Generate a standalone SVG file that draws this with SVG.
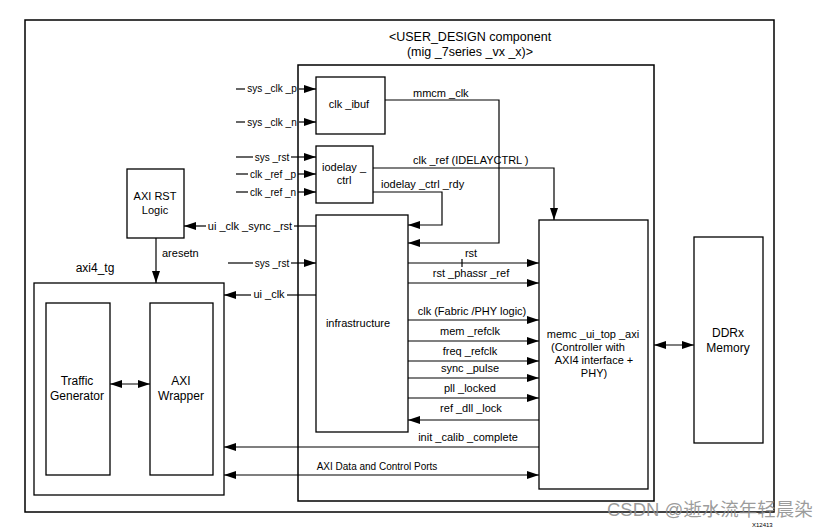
<svg xmlns="http://www.w3.org/2000/svg" width="833" height="529" viewBox="0 0 833 529">
<defs>
<marker id="ah" viewBox="0 0 12 8" refX="12" refY="4" markerWidth="12" markerHeight="8" orient="auto-start-reverse" markerUnits="userSpaceOnUse"><path d="M0,0 L12,4 L0,8 z" fill="#000"/></marker>
<style>
.box{fill:#fff;stroke:#000;stroke-width:1.3}
.frame{fill:none;stroke:#000;stroke-width:1.5}
.c{fill:none;stroke:#000;stroke-width:1.2}
.ar{marker-end:url(#ah)}
.bi{marker-start:url(#ah);marker-end:url(#ah)}
text{font-family:"Liberation Sans",Arial,sans-serif;fill:#000}
.n{font-size:12px;text-anchor:middle}
.m{font-size:11px;text-anchor:middle}
.l{font-size:11px;text-anchor:middle}
.s{font-size:10px;text-anchor:middle}
</style>
</defs>
<rect x="25" y="20" width="749" height="492" class="frame"/>
<g id="user_design">
<rect x="298" y="65" width="356" height="436" class="frame"/>
<text x="470" y="41" style="font-size:12.5px;text-anchor:middle">&lt;USER_DESIGN component</text>
<text x="470" y="56" style="font-size:12.5px;text-anchor:middle">(mig _7series _vx _x)&gt;</text>
</g>
<g id="clk_ibuf"><rect x="316" y="77" width="69" height="57" class="box"/><text x="349" y="108" class="m">clk _ibuf</text></g>
<g id="iodelay_ctrl"><rect x="316" y="146" width="57" height="57" class="box"/><text x="344" y="171" class="m">iodelay _</text><text x="344" y="184" class="m">ctrl</text></g>
<g id="infrastructure"><rect x="316" y="215" width="92" height="217" class="box"/><text x="358" y="327" class="m">infrastructure</text></g>
<g id="memc"><rect x="539" y="220" width="109" height="269" class="box"/>
<text x="593" y="338" class="m">memc _ui_top _axi</text>
<text x="588" y="351" class="m">(Controller with</text>
<text x="594" y="364" class="m">AXI4 interface  +</text>
<text x="594" y="377" class="m">PHY)</text></g>
<g id="ddrx"><rect x="694" y="237" width="69" height="206" class="box"/><text x="728" y="337" class="n">DDRx</text><text x="728" y="352" class="n">Memory</text></g>
<g id="axi_rst"><rect x="127" y="169" width="57" height="69" class="box"/><text x="155" y="200" class="m">AXI RST</text><text x="155" y="214" class="m">Logic</text></g>
<g id="axi4_tg"><rect x="34" y="283" width="190" height="212" class="box"/><text x="95" y="272" style="font-size:12px;text-anchor:middle">axi4_tg</text></g>
<g id="traffic_gen"><rect x="46" y="303" width="64" height="172" class="box"/><text x="77" y="385" class="n">Traffic</text><text x="77" y="400" class="n">Generator</text></g>
<g id="axi_wrapper"><rect x="150" y="303" width="63" height="172" class="box"/><text x="181" y="385" class="n">AXI</text><text x="181" y="400" class="n">Wrapper</text></g>
<g id="connectors">
<path d="M236,89 H245" class="c"/><path d="M299,89 H316" class="c ar"/><text x="272" y="92" class="s">sys _clk _p</text>
<path d="M236,122 H245" class="c"/><path d="M299,122 H316" class="c ar"/><text x="272" y="126" class="s">sys _clk _n</text>
<path d="M236,157 H253" class="c"/><path d="M291,157 H316" class="c ar"/><text x="272" y="161" class="s">sys _rst</text>
<path d="M236,174 H248" class="c"/><path d="M298,174 H316" class="c ar"/><text x="273" y="178" class="s">clk _ref _p</text>
<path d="M236,192 H248" class="c"/><path d="M298,192 H316" class="c ar"/><text x="273" y="196" class="s">clk _ref _n</text>
<path d="M385,100 H499 V243 H408" class="c ar"/><text x="413" y="97" style="font-size:11px">mmcm _clk</text>
<path d="M373,168 H554 V220" class="c ar"/><text x="413" y="164" style="font-size:11px">clk _ref (IDELAYCTRL )</text>
<path d="M373,192 H442 V225 H408" class="c ar"/><text x="381" y="188" style="font-size:11px">iodelay _ctrl _rdy</text>
<path d="M316,226 H294" class="c"/><path d="M206,226 H184" class="c ar"/><text x="250" y="230" class="l">ui _clk _sync _rst</text>
<path d="M156,238 V283" class="c ar"/><text x="162" y="257" style="font-size:11px">aresetn</text>
<path d="M228,263 H253" class="c"/><path d="M291,263 H316" class="c ar"/><text x="272" y="267" class="s">sys _rst</text>
<path d="M316,295 H287" class="c"/><path d="M251,295 H224" class="c ar"/><text x="269" y="298" class="l">ui _clk</text>
<path d="M408,263 H539" class="c ar"/><path d="M462,259 V267" class="c"/><text x="471" y="257" class="l">rst</text>
<path d="M408,283 H539" class="c ar"/><text x="471" y="277" class="l">rst _phassr _ref</text>
<path d="M408,320 H539" class="c ar"/><text x="472" y="315" class="l">clk (Fabric /PHY logic)</text>
<path d="M408,341 H539" class="c ar"/><text x="470" y="335" class="l">mem _refclk</text>
<path d="M408,361 H539" class="c ar"/><text x="470" y="355" class="l">freq _refclk</text>
<path d="M408,378 H539" class="c ar"/><text x="470" y="372" class="l">sync _pulse</text>
<path d="M408,398 H539" class="c ar"/><text x="470" y="392" class="l">pll _locked</text>
<path d="M539,420 H408" class="c ar"/><text x="471" y="412" class="l">ref _dll _lock</text>
<path d="M539,447 H224" class="c ar"/><text x="468" y="441" class="l">init _calib _complete</text>
<path d="M224,475 H539" class="c bi"/><text x="377" y="470" style="font-size:10px;text-anchor:middle">AXI Data and Control Ports</text>
<path d="M654,345 H694" class="c bi"/>
<path d="M110,384 H150" class="c bi"/>
</g>
<text x="752" y="527" style="font-size:6px">X12413</text>
<text x="607" y="516" style="font-size:18.5px;fill:#8a8a8a;fill-opacity:0.85;font-family:'Liberation Sans','Noto Sans CJK SC',sans-serif">CSDN @逝水流年轻晨染</text>
</svg>
